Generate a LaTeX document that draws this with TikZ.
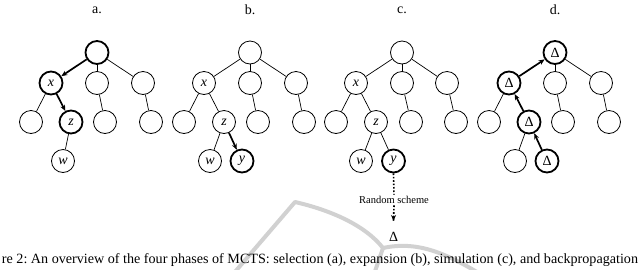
\documentclass[tikz,border=0pt]{standalone}
\usepackage{fontspec}
\setmainfont{Liberation Serif}
\usetikzlibrary{arrows.meta}
\begin{document}
\begin{tikzpicture}[x=1pt,y=-1pt,
  nd/.style={circle,draw,line width=0.8pt,minimum size=23pt,inner sep=0pt,font=\fontsize{14}{14}\selectfont},
  thk/.style={nd,line width=1.8pt},
  ed/.style={line width=0.7pt},
  ar/.style={line width=1.7pt,-{Stealth[length=6pt,width=5pt]}},
  dotar/.style={line width=1.6pt,dash pattern=on 1.6pt off 1.8pt},
  lab/.style={font=\fontsize{14}{14}\selectfont},
  wm/.style={line width=4pt,black!18,line join=round,line cap=round}]
\useasboundingbox (0,0) rectangle (640,269);
% faint watermark
\draw[wm] (228,280) -- (295,202) .. controls (330,210) and (365,225) .. (383,248) .. controls (420,240) and (450,255) .. (490,280);
\draw[wm] (383,248) -- (372,280);
% labels
\node[lab] (la) at (97,10) {a.};
\node[lab] (lb) at (250,10) {b.};
\node[lab] (lc) at (402,10) {c.};
\node[lab] (ld) at (555,10) {d.};
% ---------- tree a ----------
\node[thk] (a0) at (97,52.5) {};
\node[thk] (a1) at (51,83) {\textit{x}};
\node[nd] (a2) at (97,83) {};
\node[nd] (a3) at (143,83) {};
\node[nd] (a4) at (31,122) {};
\node[thk] (a5) at (71,122) {\textit{z}};
\node[nd] (a6) at (105,122) {};
\node[nd] (a7) at (151,122) {};
\node[nd] (a8) at (63,161) {\textit{w}};
\draw[ar] (a0) -- (a1);
\draw[ed] (a0) -- (a2);
\draw[ed] (a0) -- (a3);
\draw[ed] (a1) -- (a4);
\draw[ar] (a1) -- (a5);
\draw[ed] (a2) -- (a6);
\draw[ed] (a3) -- (a7);
\draw[ed] (a5) -- (a8);
% ---------- tree b ----------
\node[nd] (b0) at (250,52.5) {};
\node[nd] (b1) at (204,83) {\textit{x}};
\node[nd] (b2) at (250,83) {};
\node[nd] (b3) at (296,83) {};
\node[nd] (b4) at (184,122) {};
\node[nd] (b5) at (224,122) {\textit{z}};
\node[nd] (b6) at (258,122) {};
\node[nd] (b7) at (304,122) {};
\node[nd] (b8) at (210,161) {\textit{w}};
\node[thk] (b9) at (242,161) {\textit{y}};
\draw[ed] (b0) -- (b1);
\draw[ed] (b0) -- (b2);
\draw[ed] (b0) -- (b3);
\draw[ed] (b1) -- (b4);
\draw[ed] (b1) -- (b5);
\draw[ed] (b2) -- (b6);
\draw[ed] (b3) -- (b7);
\draw[ed] (b5) -- (b8);
\draw[ar] (b5) -- (b9);
% ---------- tree c ----------
\node[nd] (c0) at (402,52.5) {};
\node[nd] (c1) at (356,83) {\textit{x}};
\node[nd] (c2) at (402,83) {};
\node[nd] (c3) at (447,83) {};
\node[nd] (c4) at (336,122) {};
\node[nd] (c5) at (376,122) {\textit{z}};
\node[nd] (c6) at (411,122) {};
\node[nd] (c7) at (456,122) {};
\node[nd] (c8) at (361,161) {\textit{w}};
\node[thk] (c9) at (393.5,161) {\textit{y}};
\draw[ed] (c0) -- (c1);
\draw[ed] (c0) -- (c2);
\draw[ed] (c0) -- (c3);
\draw[ed] (c1) -- (c4);
\draw[ed] (c1) -- (c5);
\draw[ed] (c2) -- (c6);
\draw[ed] (c3) -- (c7);
\draw[ed] (c5) -- (c8);
\draw[ed] (c5) -- (c9);
\node[font=\fontsize{10.5}{10.5}\selectfont,inner sep=1.5pt] (rs) at (394,200) {Random scheme};
\node[font=\fontsize{14}{14}\selectfont,inner sep=1pt] (dl) at (393.5,237) {Δ};
\coordinate (dtip) at (393.5,221);
\draw[dotar] (c9.south) -- (rs.north);
\draw[dotar] (rs.south) -- (dtip);
\draw[line width=1.2pt,-{Stealth[length=6pt,width=5pt]}] ([yshift=5pt]dtip) -- (dtip);
% ---------- tree d ----------
\node[thk] (d0) at (555,52.5) {Δ};
\node[thk] (d1) at (509,83) {Δ};
\node[nd] (d2) at (555,83) {};
\node[nd] (d3) at (601,83) {};
\node[nd] (d4) at (489,122) {};
\node[thk] (d5) at (529,122) {Δ};
\node[nd] (d6) at (563,122) {};
\node[nd] (d7) at (609,122) {};
\node[nd] (d8) at (515,161) {};
\node[thk] (d9) at (547,161) {Δ};
\draw[ar] (d1) -- (d0);
\draw[ed] (d0) -- (d2);
\draw[ed] (d0) -- (d3);
\draw[ed] (d1) -- (d4);
\draw[ar] (d5) -- (d1);
\draw[ed] (d2) -- (d6);
\draw[ed] (d3) -- (d7);
\draw[ed] (d5) -- (d8);
\draw[ar] (d9) -- (d5);
% caption
\node[anchor=base,inner sep=0pt] (cap) at (320,263) {\resizebox{636pt}{!}{\fontsize{11}{11}\selectfont re 2:\ An overview of the four phases of MCTS: selection (a), expansion (b), simulation (c), and backpropagation}};
\end{tikzpicture}
\end{document}
